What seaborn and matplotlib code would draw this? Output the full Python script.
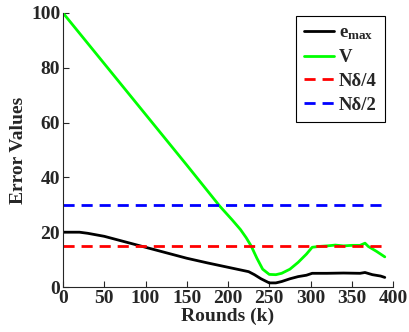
import matplotlib
matplotlib.use("Agg")
import matplotlib.pyplot as plt
import pandas as pd
import seaborn as sns

# values
v_rounds = [0, 50, 100, 150, 190, 205, 215, 222, 228, 235, 242, 250, 258, 265, 275, 285, 295, 302,
            310, 320, 330, 340, 350, 360, 366, 370, 380, 390]
v_values = [100, 81.5, 63, 44.5, 29.5, 24.5, 21, 18, 15, 10.5, 6.5, 4.6, 4.5, 5, 6.5, 9, 12, 14.5,
            14.8, 15, 15.3, 15, 15.2, 15.2, 16, 14.8, 13, 11]

e_rounds = [0, 20, 30, 50, 75, 100, 125, 150, 175, 200, 225, 232, 240, 250, 258, 265, 275, 285,
            295, 302, 320, 340, 360, 366, 375, 385, 390]
e_values = [20, 20, 19.6, 18.5, 16.5, 14.5, 12.5, 10.5, 8.8, 7.2, 5.6, 4.5, 3, 1.5, 1.5, 2, 3,
            3.8, 4.3, 5, 5, 5.1, 5, 5.3, 4.5, 4, 3.5]

thr_rounds = [0, 390]
n_delta_4 = [15, 15]
n_delta_2 = [30, 30]

sns.set_style("ticks")
plt.rcParams["font.family"] = ["Liberation Serif", "DejaVu Serif"]
plt.rcParams["font.weight"] = "bold"
plt.rcParams["mathtext.fontset"] = "custom"
plt.rcParams["mathtext.rm"] = "Liberation Serif:bold"
plt.rcParams["mathtext.bf"] = "Liberation Serif:bold"
plt.rcParams["mathtext.it"] = "Liberation Serif:bold"

fig = plt.figure(figsize=(4.09, 3.32), dpi=100)
ax = fig.add_axes([0.154, 0.1355, 0.807, 0.8255])

sns.lineplot(x=e_rounds, y=e_values, ax=ax, color="black", lw=2, label=r"$\mathbf{e_{max}}$")
sns.lineplot(x=v_rounds, y=v_values, ax=ax, color="#00ff00", lw=2, label="V")
sns.lineplot(x=thr_rounds, y=n_delta_4, ax=ax, color="red", lw=2, ls=(0, (4, 2.5)), label="Nδ/4")
sns.lineplot(x=thr_rounds, y=n_delta_2, ax=ax, color="blue", lw=2, ls=(0, (4, 2.5)), label="Nδ/2")

ax.set_xlim(0, 400)
ax.set_ylim(0, 100)
ax.set_xticks(range(0, 401, 50))
ax.set_yticks(range(0, 101, 20))
ax.tick_params(direction="in", length=4, width=0.8, labelsize=14, pad=2)
for lab in ax.get_xticklabels() + ax.get_yticklabels():
    lab.set_fontweight("bold")
ax.set_xlabel("Rounds (k)", fontsize=14, fontweight="bold", labelpad=1)
ax.set_ylabel("Error Values", fontsize=14, fontweight="bold", labelpad=3)
sns.despine(ax=ax)
for s in ["left", "bottom"]:
    ax.spines[s].set_linewidth(0.8)

leg = ax.legend(loc="upper right", bbox_to_anchor=(0.976, 0.988), fontsize=13.5, frameon=True,
                fancybox=False, edgecolor="black", framealpha=1, handlelength=1.6,
                handletextpad=0.25, borderpad=0.45, labelspacing=0.35, borderaxespad=0)
leg.get_frame().set_linewidth(0.8)
for t in leg.get_texts():
    t.set_fontweight("bold")

fig.savefig("out.png", dpi=100)
